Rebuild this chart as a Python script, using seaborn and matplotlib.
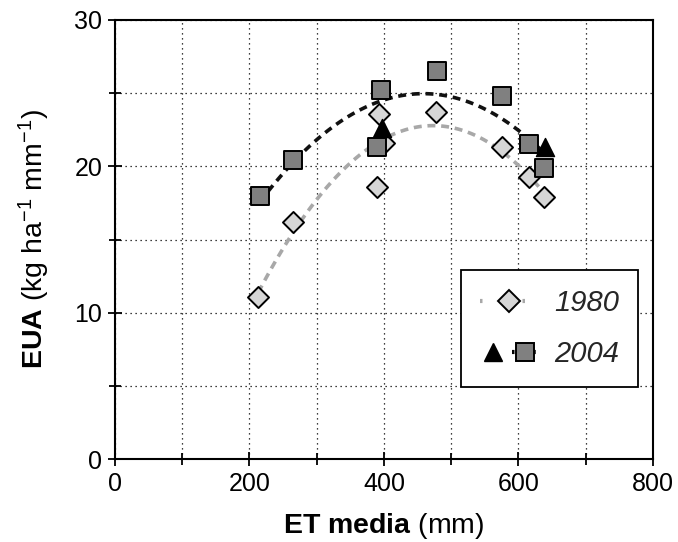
import matplotlib
matplotlib.use('Agg')
import pandas as pd
import seaborn as sns
import matplotlib.pyplot as plt
from matplotlib.lines import Line2D
from matplotlib.legend_handler import HandlerTuple
from matplotlib.ticker import MultipleLocator

# valores (ET media en mm, EUA en kg ha-1 mm-1)
et_1980 = [213, 264, 392, 400, 390, 477, 576, 615, 638]
eua_1980 = [11.1, 16.2, 23.6, 21.6, 18.6, 23.7, 21.3, 19.3, 17.9]

et_2004_sq = [215, 265, 395, 389, 479, 576, 615, 638]
eua_2004_sq = [18.0, 20.4, 25.2, 21.3, 26.5, 24.8, 21.5, 19.9]

et_2004_tri = [397, 639]
eua_2004_tri = [22.6, 21.3]

legend_labels = ['1980', '2004']

sns.set_theme(style='ticks')
plt.rcParams['font.family'] = ['Liberation Sans', 'DejaVu Sans']
plt.rcParams['mathtext.fontset'] = 'custom'
plt.rcParams['mathtext.rm'] = 'Liberation Sans'
plt.rcParams['mathtext.bf'] = 'Liberation Sans:bold'
plt.rcParams['mathtext.it'] = 'Liberation Sans:italic'

df80 = pd.DataFrame({'et': et_1980, 'eua': eua_1980})
df04 = pd.DataFrame({'et': et_2004_sq, 'eua': eua_2004_sq})
df04t = pd.DataFrame({'et': et_2004_tri, 'eua': eua_2004_tri})

fig = plt.figure(figsize=(6.78, 5.42), dpi=100)
ax = fig.add_axes([0.1696, 0.1531, 0.7935, 0.81])

# curvas de ajuste (polinomio de grado 2)
sns.regplot(data=df80, x='et', y='eua', order=2, ci=None, scatter=False, ax=ax,
            line_kws=dict(color='#a8a8a8', lw=2.6, ls=(0, (2.2, 1.6)), zorder=2))
sns.regplot(data=df04, x='et', y='eua', order=2, ci=None, scatter=False, ax=ax,
            line_kws=dict(color='#111111', lw=2.6, ls=(0, (2.2, 1.6)), zorder=2))

sns.scatterplot(data=df80, x='et', y='eua', marker='D', s=115, color='#d6d6d6',
                edgecolor='black', linewidth=1.4, ax=ax, zorder=3)
sns.scatterplot(data=df04t, x='et', y='eua', marker='^', s=170, color='black',
                edgecolor='black', linewidth=1.0, ax=ax, zorder=4)
sns.scatterplot(data=df04, x='et', y='eua', marker='s', s=185, color='#808080',
                edgecolor='black', linewidth=1.4, ax=ax, zorder=5)

ax.set_xlim(0, 800)
ax.set_ylim(0, 30)
ax.xaxis.set_major_locator(MultipleLocator(200))
ax.xaxis.set_minor_locator(MultipleLocator(100))
ax.yaxis.set_major_locator(MultipleLocator(10))
ax.yaxis.set_minor_locator(MultipleLocator(5))
ax.grid(which='both', color='black', ls=(0, (1, 3)), lw=0.9)
ax.tick_params(which='major', direction='inout', length=10, width=1.3,
               labelsize=18, pad=4, color='black', labelcolor='black')
ax.tick_params(which='minor', direction='inout', length=8, width=1.3, color='black')
for sp in ax.spines.values():
    sp.set_visible(True)
    sp.set_linewidth(1.5)
    sp.set_color('black')

ax.set_xlabel(r'$\mathbf{ET\ media}$ (mm)', fontsize=20.5, labelpad=11, color='black')
ax.set_ylabel(r'$\mathbf{EUA}$ (kg ha$^{-1}$ mm$^{-1}$)', fontsize=20.5, labelpad=16, color='black')

h80 = Line2D([], [], color='#a8a8a8', ls=(0, (0.6, 4.5)), lw=3, marker='D', ms=10.7,
             mfc='#d6d6d6', mec='black', mew=1.4)
h04a = Line2D([], [], color='black', ls='none', marker='^', ms=13,
              mfc='black', mec='black')
h04b = Line2D([], [], color='black', ls=(0, (0.6, 4.5)), lw=3, marker='s', ms=13.5,
              mfc='#808080', mec='black', mew=1.4)
leg = ax.legend([h80, (h04a, h04b)], legend_labels,
                handler_map={tuple: HandlerTuple(ndivide=None, pad=0.2)},
                loc='lower left', bbox_to_anchor=(0.643, 0.164), borderaxespad=0,
                prop={'style': 'italic', 'size': 21}, frameon=True, fancybox=False,
                edgecolor='black', framealpha=1, handlelength=2.0, handletextpad=0.55,
                borderpad=0.65, labelspacing=0.8, numpoints=1)
leg.get_frame().set_linewidth(1.3)

fig.savefig('out.png', dpi=100)
